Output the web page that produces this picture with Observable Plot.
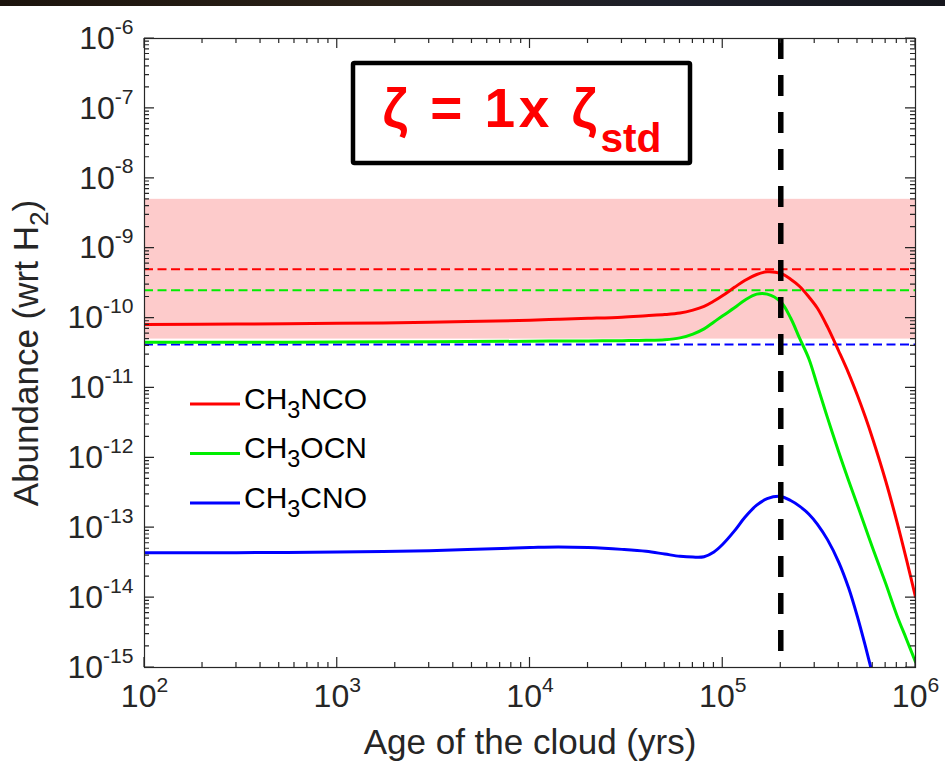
<!DOCTYPE html>
<html>
<head>
<meta charset="utf-8">
<script src="https://cdn.jsdelivr.net/npm/d3@7"></script>
<script src="https://cdn.jsdelivr.net/npm/@observablehq/plot@0.6"></script>
<style>
  html, body { margin: 0; padding: 0; background: #ffffff; width: 945px; height: 761px; overflow: hidden; }
  #strip { height: 6px; background: linear-gradient(90deg, #1c140d, #2a2118 40%, #1d1f2a 70%, #15161c); }
  #chart svg { display: block; }
</style>
</head>
<body>
<div id="strip"></div>
<div id="chart"></div>
<script>
// ---- data ----
const ages = [1e2, 3e2, 1e3, 3e3, 1e4, 1.4e4, 2e4, 3e4, 4e4, 5e4, 6e4, 7e4, 8e4, 9e4, 1e5, 1.15e5, 1.3e5, 1.5e5, 1.7e5, 2e5, 2.25e5, 2.5e5, 2.8e5, 3.1e5, 3.5e5, 4e5, 4.5e5, 5e5, 5.5e5, 6e5, 7e5, 8e5, 9e5, 1e6];
const ch3nco = [8.1e-11, 8.2e-11, 8.4e-11, 8.7e-11, 9.3e-11, 9.6e-11, 9.9e-11, 1.03e-10, 1.08e-10, 1.12e-10, 1.18e-10, 1.3e-10, 1.47e-10, 1.75e-10, 2.1e-10, 2.75e-10, 3.45e-10, 4.2e-10, 4.6e-10, 4.35e-10, 3.6e-10, 2.85e-10, 2.0e-10, 1.38e-10, 7.4e-11, 3.35e-11, 1.62e-11, 7.8e-12, 3.8e-12, 1.86e-12, 4.7e-13, 1.23e-13, 3.4e-14, 1.02e-14];
const ch3ocn = [4.5e-11, 4.5e-11, 4.55e-11, 4.6e-11, 4.65e-11, 4.7e-11, 4.7e-11, 4.75e-11, 4.8e-11, 4.9e-11, 5.2e-11, 5.9e-11, 7.0e-11, 8.8e-11, 1.08e-10, 1.4e-10, 1.8e-10, 2.2e-10, 2.2e-10, 1.7e-10, 1.0e-10, 5.2e-11, 2.6e-11, 1.07e-11, 3.7e-12, 1.2e-12, 4.7e-13, 2.1e-13, 1.0e-13, 5.1e-14, 1.6e-14, 5.6e-15, 2.5e-15, 1.2e-15];
const ch3cno = [4.4e-14, 4.4e-14, 4.5e-14, 4.7e-14, 5.2e-14, 5.3e-14, 5.2e-14, 4.9e-14, 4.6e-14, 4.2e-14, 3.9e-14, 3.8e-14, 3.85e-14, 4.5e-14, 5.8e-14, 9e-14, 1.4e-13, 2.1e-13, 2.6e-13, 2.8e-13, 2.45e-13, 2.04e-13, 1.56e-13, 1.12e-13, 6.7e-14, 3.2e-14, 1.37e-14, 5.3e-15, 2.0e-15, 7.8e-16, null, null, null, null];

const speciesLabels = ["CH_{3}NCO", "CH_{3}OCN", "CH_{3}CNO"];
const speciesColors = ["#ff0000", "#00ee00", "#0000ff"];
const observedAbundance = [5e-10, 2.5e-10, 4.2e-11];   // dashed lines, same colour order
const observedBand = [5e-11, 5e-9];                     // shaded range
const markerAge = [2e5];                                // vertical dashed line
const xTicks = [1e2, 1e3, 1e4, 1e5, 1e6];
const yTicks = [1e-15, 1e-14, 1e-13, 1e-12, 1e-11, 1e-10, 1e-9, 1e-8, 1e-7, 1e-6];
const xTitle = "Age of the cloud (yrs)";
const yTitle = "Abundance (wrt H_{2})";
const annotationText = "ζ = 1x ζ_{std}";

// ---- derived tables ----
const seriesValues = [ch3nco, ch3ocn, ch3cno];
const seriesRows = seriesValues.map(vals =>
  ages.map((age, j) => ({age, value: vals[j]})).filter(d => d.value != null));
const bandRows = [{x1: xTicks[0], x2: xTicks[xTicks.length - 1], y1: observedBand[0], y2: observedBand[1]}];
const expFmt = d => `10^{${Math.round(Math.log10(d))}}`;
const AXIS = "#262626";

function frameTicks(index, scales, values, dims) {
  const {width, height, marginLeft, marginRight, marginTop, marginBottom} = dims;
  const L = marginLeft, R = width - marginRight, T = marginTop, B = height - marginBottom;
  const x = typeof scales.x === "function" ? scales.x : d3.scaleLog([xTicks[0], xTicks[xTicks.length-1]], [L, R]);
  const y = typeof scales.y === "function" ? scales.y : d3.scaleLog([yTicks[0], yTicks[yTicks.length-1]], [B, T]);
  const major = 10, minor = 5;
  const xMinor = xTicks.slice(0, -1).flatMap(d => d3.range(2, 10).map(k => d * k));
  const yMinor = yTicks.slice(0, -1).flatMap(d => d3.range(2, 10).map(k => d * k));
  const p = d3.path();
  const vx = (v, len) => { const px = x(v); p.moveTo(px, B); p.lineTo(px, B - len); p.moveTo(px, T); p.lineTo(px, T + len); };
  const vy = (v, len) => { const py = y(v); p.moveTo(L, py); p.lineTo(L + len, py); p.moveTo(R, py); p.lineTo(R - len, py); };
  xTicks.forEach(v => vx(v, major)); xMinor.forEach(v => vx(v, minor));
  yTicks.forEach(v => vy(v, major)); yMinor.forEach(v => vy(v, minor));
  const g = d3.create("svg:g");
  g.append("path").attr("d", p.toString()).attr("fill", "none").attr("stroke", AXIS).attr("stroke-width", 1.2);
  return g.node();
}

function legendMark(index, scales, values, dims) {
  const {marginLeft, marginTop} = dims;
  const g = d3.create("svg:g").attr("font-size", 30).attr("fill", "#000").attr("text-anchor", "start");
  speciesLabels.forEach((lab, i) => {
    const yy = marginTop + 366 + i * 49.5;
    g.append("line").attr("x1", marginLeft + 46).attr("x2", marginLeft + 96)
      .attr("y1", yy).attr("y2", yy).attr("stroke", speciesColors[i]).attr("stroke-width", 3);
    g.append("text").attr("class", "rich legend-text").attr("x", marginLeft + 100).attr("y", yy)
      .attr("dy", "0.15em").attr("text-anchor", "start").text(lab);
  });
  return g.node();
}

function annotationMark(index, scales, values, dims) {
  const {marginLeft, marginTop} = dims;
  const g = d3.create("svg:g");
  g.append("rect").attr("x", marginLeft + 209).attr("y", marginTop + 25).attr("width", 337).attr("height", 100)
    .attr("fill", "#fff").attr("stroke", "#000").attr("stroke-width", 4.5).attr("rx", 1.5);
  g.append("text").attr("class", "rich annot-text").attr("x", marginLeft + 378).attr("y", marginTop + 89)
    .attr("text-anchor", "middle").attr("font-size", 55).attr("font-weight", "bold").attr("fill", "#ff0000")
    .text(annotationText);
  return g.node();
}

const marks = [
  Plot.rect(bandRows, {x1: "x1", x2: "x2", y1: "y1", y2: "y2", fill: "#fdcbcb"}),
  ...observedAbundance.map((v, i) => Plot.ruleY([v], {stroke: speciesColors[i], strokeWidth: 2, strokeDasharray: "9,4.5"})),
  ...seriesRows.map((rows, i) => Plot.line(rows, {x: "age", y: "value", stroke: speciesColors[i], strokeWidth: 3, curve: "catmull-rom", clip: true})),
  Plot.ruleX(markerAge, {stroke: "#000", strokeWidth: 5.5, strokeDasharray: "21,16"}),
  Plot.frame({stroke: AXIS, strokeWidth: 1.2}),
  frameTicks,
  Plot.axisX({ticks: xTicks, tickSize: 0, tickPadding: 17, fontSize: 32, tickFormat: expFmt, label: null, fill: AXIS}),
  Plot.axisY({ticks: yTicks, tickSize: 0, tickPadding: 11, fontSize: 32, tickFormat: expFmt, label: null, fill: AXIS}),
  Plot.text([xTitle], {frameAnchor: "bottom", dy: 75, fontSize: 35, fill: AXIS, lineAnchor: "middle", textAnchor: "middle"}),
  Plot.text([yTitle], {frameAnchor: "left", dx: -118, rotate: -90, fontSize: 35, fill: AXIS, lineAnchor: "middle", textAnchor: "middle"}),
  legendMark,
  annotationMark
];

const chart = Plot.plot({
  width: 945, height: 755,
  marginTop: 32, marginRight: 30, marginBottom: 94, marginLeft: 144,
  style: {fontFamily: "'Liberation Sans', Arial, Helvetica, sans-serif", background: "#ffffff", color: AXIS, overflow: "visible"},
  x: {type: "log", domain: [xTicks[0], xTicks[xTicks.length - 1]]},
  y: {type: "log", domain: [yTicks[0], yTicks[yTicks.length - 1]]},
  marks
});
document.getElementById("chart").appendChild(chart);

// ---- turn ^{..} and _{..} markup into real superscript / subscript tspans ----
const SVGNS = "http://www.w3.org/2000/svg";
function richify(el, opt) {
  const s = el.textContent;
  if (!/[_^]\{/.test(s)) return;
  const fs = parseFloat(getComputedStyle(el).fontSize) || 16;
  const o = Object.assign({supScale: 0.66, supShift: -0.47, subScale: 0.75, subShift: 0.3, mainSpacing: 0, scriptSpacing: 0}, opt || {});
  el.textContent = "";
  let cur = 0;
  const add = (txt, size, target, spacing) => {
    const t = document.createElementNS(SVGNS, "tspan");
    t.textContent = txt;
    if (size) t.setAttribute("font-size", size);
    if (spacing) t.setAttribute("letter-spacing", spacing);
    const dy = target - cur; cur = target;
    if (dy) t.setAttribute("dy", dy.toFixed(2));
    el.appendChild(t);
  };
  const re = /([_^])\{([^}]*)\}/g;
  let last = 0, m;
  while ((m = re.exec(s))) {
    if (m.index > last) add(s.slice(last, m.index), null, 0, o.mainSpacing);
    if (m[1] === "^") add(m[2], fs * o.supScale, fs * o.supShift, o.scriptSpacing);
    else add(m[2], fs * o.subScale, fs * o.subShift, o.scriptSpacing);
    last = re.lastIndex;
  }
  if (last < s.length) add(s.slice(last), null, 0, o.mainSpacing);
}
d3.select(chart).selectAll("text").each(function () {
  if (this.classList.contains("annot-text")) richify(this, {subScale: 0.74, subShift: 0.45, mainSpacing: 3.5, scriptSpacing: 0});
  else if (this.classList.contains("legend-text")) richify(this, {subScale: 0.78, subShift: 0.3});
  else richify(this);
});
</script>
</body>
</html>
